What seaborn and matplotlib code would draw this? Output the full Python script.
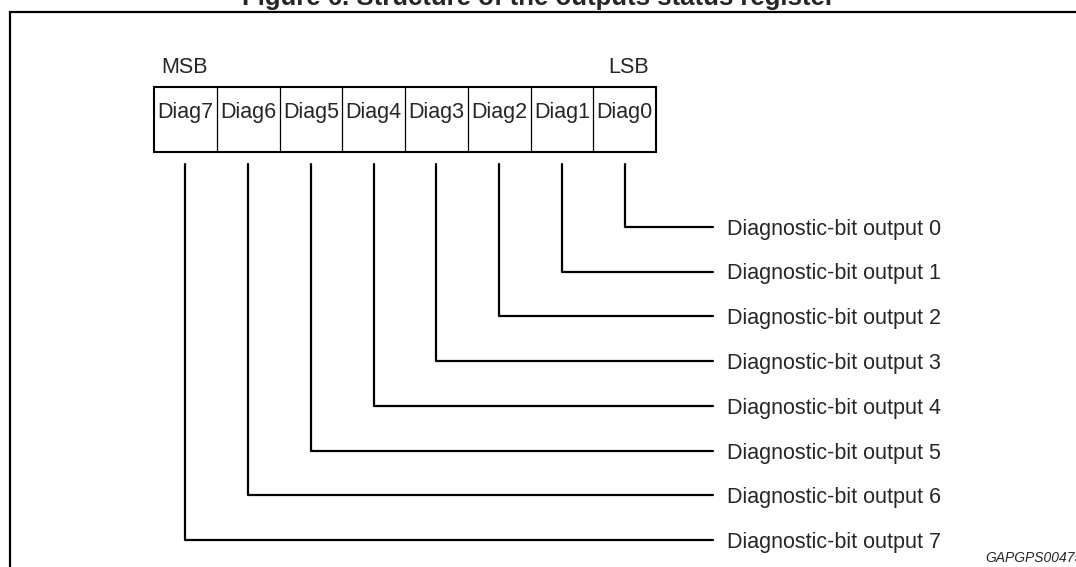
"""
Structure of the outputs status register (diagram redrawn with seaborn / matplotlib)
"""

import numpy as np
import pandas as pd
import matplotlib.pyplot as plt
from matplotlib.patches import Rectangle
import seaborn as sns

# data
bits = [7, 6, 5, 4, 3, 2, 1, 0]                       # MSB -> LSB
cell_labels = ['Diag7', 'Diag6', 'Diag5', 'Diag4', 'Diag3', 'Diag2', 'Diag1', 'Diag0']
output_labels = ['Diagnostic-bit output 0', 'Diagnostic-bit output 1',
                 'Diagnostic-bit output 2', 'Diagnostic-bit output 3',
                 'Diagnostic-bit output 4', 'Diagnostic-bit output 5',
                 'Diagnostic-bit output 6', 'Diagnostic-bit output 7']
title = 'Figure 6. Structure of the outputs status register'
ref_code = 'GAPGPS00475'

# layout (pixel units of the 1076x567 canvas)
W, H = 1076, 567
box_left, box_top, box_h = 154, 87, 65
cell_w = 62.75
lead_top = 164
out_y0, out_dy = 226.7, 44.8
lead_end, label_x = 713, 727
fs = 15.5

sns.set_style('white')
plt.rcParams['font.family'] = ['Liberation Sans', 'DejaVu Sans']

fig = plt.figure(figsize=(W / 100, H / 100), dpi=100)
ax = fig.add_axes([0, 0, 1, 1])

# open frame (top + left)
ax.plot([10, 10, W], [H, 12, 12], color='black', lw=1.6, solid_joinstyle='miter')

# title, partly cut by the top edge like in the source
ax.text(538, 5, title, ha='center', va='baseline', fontsize=18.5, fontweight='bold')

# register box
ax.add_patch(Rectangle((box_left, box_top), cell_w * len(bits), box_h,
                       fill=False, ec='black', lw=1.5))
for i in range(1, len(bits)):
    x = box_left + i * cell_w
    ax.plot([x, x], [box_top, box_top + box_h], color='black', lw=0.9)
for i, lab in enumerate(cell_labels):
    ax.text(box_left + (i + 0.5) * cell_w, 118, lab, ha='center', va='baseline', fontsize=fs)

ax.text(161, 73, 'MSB', ha='left', va='baseline', fontsize=fs)
ax.text(649, 73, 'LSB', ha='right', va='baseline', fontsize=fs)

# leads from each bit to its output label
rows = []
for i, b in enumerate(bits):
    xc = box_left + (i + 0.5) * cell_w
    yk = out_y0 + b * out_dy
    for order, (px, py) in enumerate([(xc, lead_top), (xc, yk), (lead_end, yk)]):
        rows.append({'bit': b, 'order': order, 'x': px, 'y': py})
leads = pd.DataFrame(rows)
sns.lineplot(data=leads, x='x', y='y', units='bit', estimator=None, sort=False,
             color='black', lw=1.6, ax=ax)
ax.set_xlim(0, W)
ax.set_ylim(H, 0)
ax.axis('off')

for b, lab in zip(range(8), output_labels):
    ax.text(label_x, out_y0 + b * out_dy, lab, ha='left', va='center_baseline', fontsize=fs)

ax.text(985, 562, ref_code, ha='left', va='baseline', fontsize=10, fontstyle='italic')

fig.savefig('out.png', dpi=100, facecolor='white')
